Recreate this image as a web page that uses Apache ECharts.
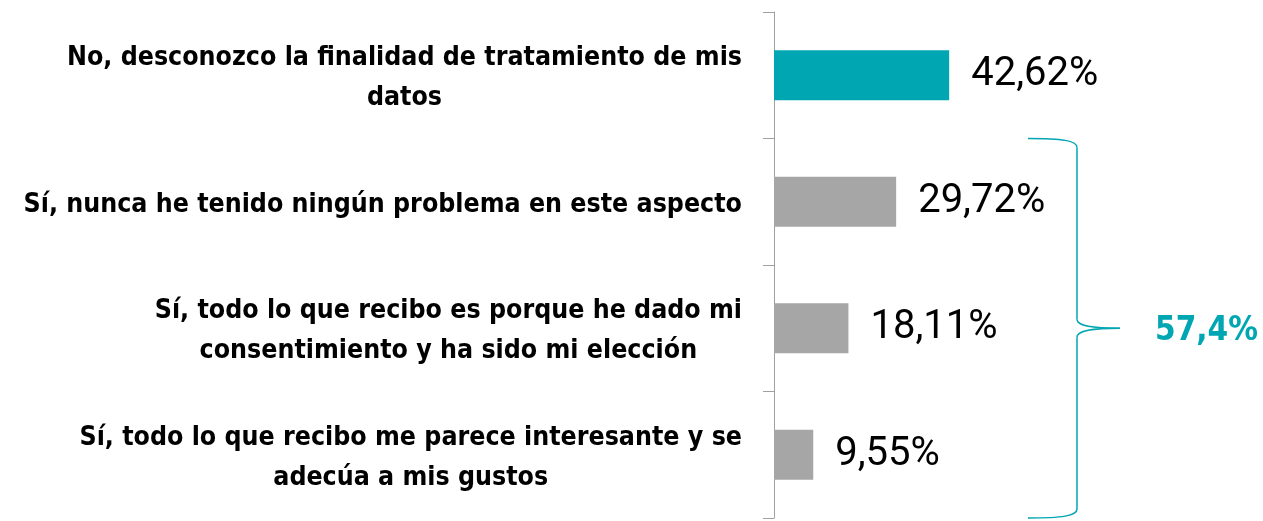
<!DOCTYPE html>
<html>
<head>
<meta charset="utf-8">
<script src="https://cdn.jsdelivr.net/npm/echarts@6/dist/echarts.min.js"></script>
<style>
  html, body { margin: 0; padding: 0; background: #fff; }
  #chart { width: 1263px; height: 521px; }
</style>
</head>
<body>
<div id="chart"></div>
<script>
// categorias (de arriba a abajo)
const categories = [
  'No, desconozco la finalidad de tratamiento de mis\ndatos',
  'Sí, nunca he tenido ningún problema en este aspecto',
  'Sí, todo lo que recibo es porque he dado mi\nconsentimiento y ha sido mi elección',
  'Sí, todo lo que recibo me parece interesante y se\nadecúa a mis gustos'
];
const values = [42.62, 29.72, 18.11, 9.55];
const barColors = ['#00A6B2', '#A6A6A6', '#A6A6A6', '#A6A6A6'];
const totalLabel = '57,4%';

const TEAL = '#00A6B2';
const LABEL_FONT = '"Liberation Sans Narrow", "DejaVu Sans Condensed", sans-serif';
const gridTop = 12, gridH = 506, gridLeft = 774;
const band = gridH / categories.length;

const chart = echarts.init(document.getElementById('chart'));

// llave "}" que agrupa las tres respuestas "Sí"
const bTop = gridTop + band, bBot = gridTop + gridH, bMid = (bTop + bBot) / 2;
const bx = 1077, bl = 1028, tip = 1120;
const braceStyle = { fill: null, stroke: TEAL, lineWidth: 1.5 };
function curve(x1, y1, cx1, cy1, cx2, cy2, x2, y2) {
  return {
    type: 'bezierCurve',
    shape: { x1: x1, y1: y1, cpx1: cx1, cpy1: cy1, cpx2: cx2, cpy2: cy2, x2: x2, y2: y2 },
    style: braceStyle
  };
}
function seg(x1, y1, x2, y2) {
  return { type: 'line', shape: { x1: x1, y1: y1, x2: x2, y2: y2 }, style: braceStyle };
}
const brace = [
  curve(bl, bTop, 1062, bTop, bx, bTop + 2, bx, bTop + 9),
  seg(bx, bTop + 9, bx, bMid - 9),
  curve(bx, bMid - 9, bx, bMid - 2, 1092, bMid, tip, bMid),
  curve(tip, bMid, 1092, bMid, bx, bMid + 2, bx, bMid + 9),
  seg(bx, bMid + 9, bx, bBot - 9),
  curve(bx, bBot - 9, bx, bBot - 2, 1062, bBot, bl, bBot)
];

chart.setOption({
  animation: false,
  grid: { left: gridLeft, top: gridTop, width: 411, height: gridH, outerBoundsMode: 'none', containLabel: false },
  xAxis: {
    type: 'value', min: 0, max: 100, show: false
  },
  yAxis: {
    type: 'category',
    inverse: true,
    data: categories,
    axisLine: { show: true, lineStyle: { color: '#A0A0A0', width: 1 } },
    axisTick: { show: true, length: 11, lineStyle: { color: '#A0A0A0' } },
    axisLabel: {
      margin: 32,
      padding: [6, 0, 0, 0],
      formatter: function (v) {
        return v.split('\n').map(function (l) { return '{c|' + l + '}'; }).join('\n');
      },
      rich: {
        c: {
          align: 'center',
          fontFamily: LABEL_FONT,
          fontWeight: 'bold',
          fontSize: 26.5,
          lineHeight: 40,
          color: '#000'
        }
      }
    }
  },
  series: [{
    type: 'bar',
    barWidth: 50,
    data: values.map(function (v, i) {
      return { value: v, itemStyle: { color: barColors[i] } };
    }),
    label: {
      show: true,
      position: 'right',
      distance: 22,
      fontFamily: 'Roboto, sans-serif',
      fontSize: 40,
      color: '#000',
      formatter: function (p) { return p.value.toFixed(2).replace('.', ',') + '%'; }
    }
  }],
  graphic: brace.concat([
    {
      type: 'text',
      x: 1155, y: bMid + 3,
      style: {
        text: totalLabel,
        fill: TEAL,
        verticalAlign: 'middle',
        font: 'bold 33px ' + LABEL_FONT
      }
    }
  ])
});
</script>
</body>
</html>
